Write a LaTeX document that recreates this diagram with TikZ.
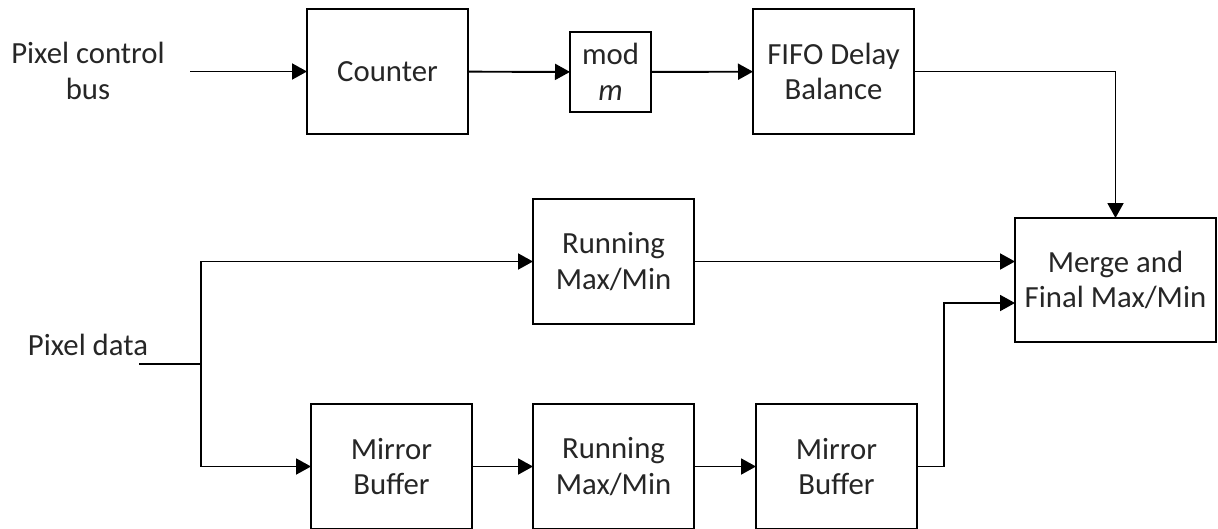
\documentclass[tikz,border=0pt]{standalone}
\usepackage{fontspec}
\setmainfont{Carlito}
\usetikzlibrary{arrows.meta,calc}
\begin{document}
\begin{tikzpicture}[inner sep=0pt,outer sep=0pt,line width=1.1pt,
>={Triangle[length=3mm,width=3.2mm]},
every node/.style={font=\fontsize{17.5}{20.3}\selectfont,align=center,text=black!85},
sysblock/.style={draw=black,rectangle,inner sep=2pt,minimum width=3.22cm,minimum height=2.5cm,line width=1.1pt}]
\useasboundingbox (0,0) rectangle (24.36,-10.56);
\draw (7.75,-1.43) node[sysblock] (counter) {Counter};
\draw (12.21,-1.44) node[sysblock,minimum width=1.62cm,minimum height=1.6cm] (mod) {mod\\\textit{m}};
\draw (16.67,-1.43) node[sysblock] (fifo) {FIFO Delay\\Balance};
\draw (12.27,-5.23) node[sysblock] (runtop) {Running\\Max/Min};
\draw (22.31,-5.6) node[sysblock,minimum width=4.02cm,minimum height=2.48cm] (merge) {Merge and\\Final Max/Min};
\draw (7.83,-9.33) node[sysblock] (mirA) {Mirror\\Buffer};
\draw (12.27,-9.33) node[sysblock] (runbot) {Running\\Max/Min};
\draw (16.73,-9.33) node[sysblock] (mirB) {Mirror\\Buffer};
% inputs
\node (ctrl) at (1.76,-1.42) {Pixel control\\bus};
\node (pix) at (1.76,-6.9) {Pixel data};
\coordinate (ctrlin) at (3.8,-1.43);
\coordinate (pixin) at (2.78,-7.28);
\coordinate (split) at (4.02,-7.28);
\draw[->] (ctrlin) -- (counter);
\draw[->] (counter) -- (mod);
\draw[->] (mod) -- (fifo);
\draw[->] (fifo.east) -| (merge.north);
\draw (pixin) -- (split);
\draw[->] (split) |- (runtop.west);
\draw[->] (split) |- (mirA.west);
\draw[->] (mirA) -- (runbot);
\draw[->] (runbot) -- (mirB);
\draw[->] (runtop.east) -- (runtop.east -| merge.west);
\draw[->] (mirB.east) -- ++(0.54,0) |- ($(merge.west)+(0,-0.46)$);
\end{tikzpicture}
\end{document}
